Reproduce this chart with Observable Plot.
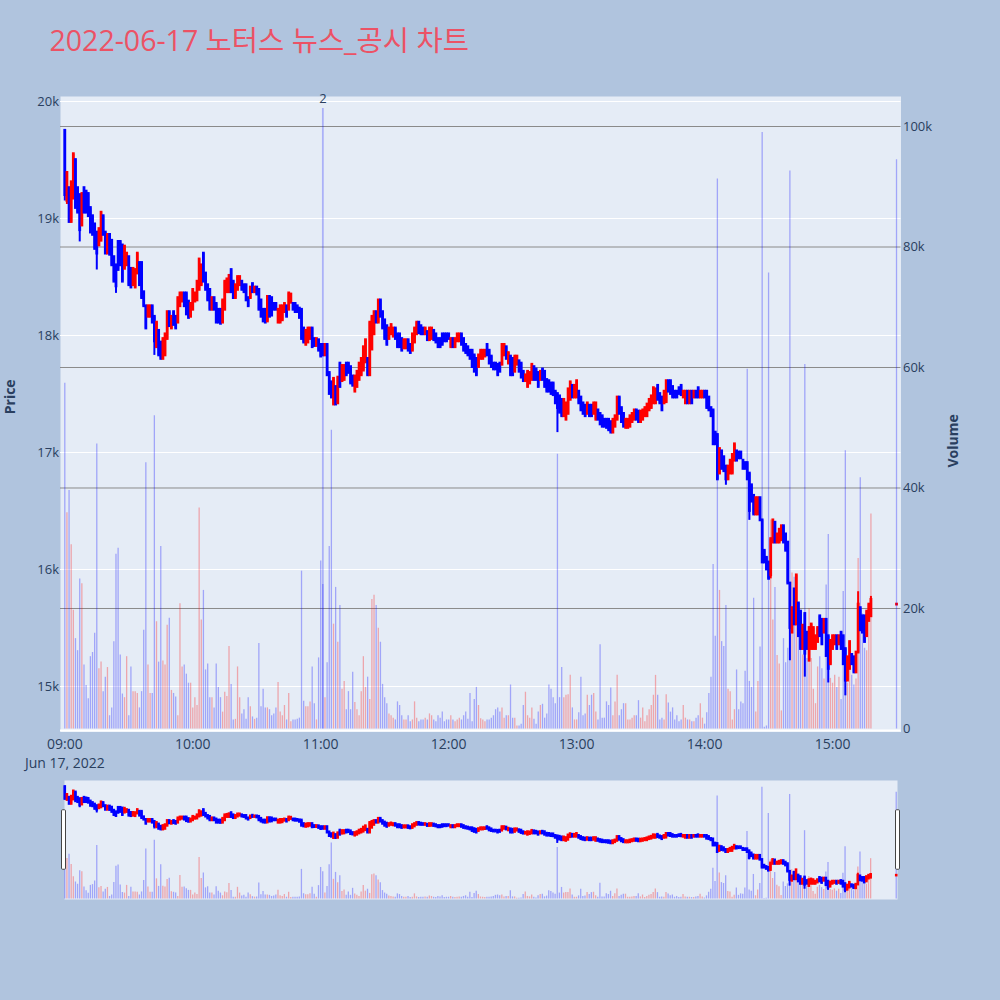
<!DOCTYPE html>
<html>
<head>
<meta charset="utf-8">
<script src="https://cdn.jsdelivr.net/npm/d3@7"></script>
<script src="https://cdn.jsdelivr.net/npm/@observablehq/plot@0.6"></script>
<style>
  html, body { margin: 0; padding: 0; background: #b0c4de; }
  #chart { position: relative; width: 1000px; height: 1000px; background: #b0c4de; overflow: hidden; font-family: "Open Sans", sans-serif; }
  #chart svg { position: absolute; left: 0; }
  #title { position: absolute; left: 49.5px; top: 25.5px; font-size: 28.5px; line-height: 28.5px; color: #ec5265; white-space: nowrap; font-family: "Open Sans", "Noto Sans CJK KR", sans-serif; }
</style>
</head>
<body>
<div id="chart"><div id="title">2022-06-17 노터스 뉴스_공시 차트</div></div>
<script>
// One-minute candles from the 09:00 open, one entry per minute.
const sessionStart = "2022-06-17T09:00:00Z";

const opens = [
  19750,19150,19260,18970,19170,19500,19260,19200,18940,19260,
  19230,19210,19090,19020,18950,18880,18770,18810,19020,18880,
  18700,18860,18810,18670,18600,18800,18800,18770,18570,18600,
  18670,18570,18430,18410,18530,18620,18620,18370,18250,18160,
  18160,18250,18160,17900,18040,17940,17800,17830,17970,18200,
  18060,18200,18160,18110,18250,18290,18360,18360,18290,18160,
  18220,18290,18300,18390,18430,18700,18530,18430,18390,18220,
  18320,18270,18220,18220,18110,18220,18370,18370,18560,18460,
  18320,18390,18430,18460,18430,18430,18320,18320,18440,18370,
  18410,18390,18300,18220,18220,18120,18330,18320,18270,18270,
  18110,18110,18130,18200,18250,18220,18280,18270,18270,18250,
  18230,18220,18060,17920,17940,17970,18060,17970,17910,17960,
  17920,17920,17830,17920,17680,17600,17410,17560,17420,17760,
  17610,17620,17760,17760,17730,17650,17520,17560,17620,17660,
  17700,17770,17800,17660,17880,18010,18200,18110,18300,18200,
  18130,18080,17970,18010,17990,18060,18010,18010,17970,17890,
  17890,17960,17920,17870,17940,18010,18110,18080,18060,18010,
  18030,17960,17970,18040,18010,17970,17970,18010,18010,18010,
  18010,17900,17970,17900,17950,17950,18010,17970,17920,17900,
  17870,17870,17830,17800,17730,17800,17800,17820,17920,17870,
  17820,17760,17760,17750,17760,17750,17830,17900,17760,17820,
  17800,17690,17750,17780,17760,17690,17610,17560,17590,17620,
  17730,17710,17680,17620,17710,17690,17620,17610,17590,17590,
  17520,17500,17480,17450,17310,17280,17330,17450,17570,17470,
  17470,17520,17470,17420,17400,17330,17400,17400,17330,17280,
  17360,17330,17310,17280,17280,17280,17260,17170,17220,17280,
  17470,17380,17330,17210,17210,17220,17260,17280,17360,17350,
  17260,17280,17310,17310,17360,17380,17420,17420,17570,17500,
  17470,17420,17430,17610,17610,17560,17520,17520,17550,17570,
  17470,17420,17520,17420,17520,17470,17520,17550,17470,17470,
  17520,17520,17470,17380,17360,17170,17150,16820,17010,16960,
  16880,16770,16820,16820,16930,17010,17000,17000,16930,16910,
  16910,16820,16720,16630,16470,16470,16610,16420,16160,16100,
  16060,15950,16230,16400,16230,16230,16250,16370,16300,16230,
  15880,15460,15830,15530,15710,15640,15320,15620,15460,15220,
  15320,15320,15320,15380,15600,15570,15460,15570,15430,15190,
  15320,15360,15430,15360,15460,15430,15320,15050,15150,15270,
  15250,15120,15290,15670,15600,15600,15430,15560,15600
];
const highs = [
  19760,19390,19260,19310,19550,19500,19260,19210,19210,19260,
  19230,19210,19090,19020,18950,18880,18910,19050,19020,18880,
  18860,18860,18810,18670,18600,18800,18800,18770,18760,18700,
  18670,18570,18570,18560,18700,18620,18620,18370,18250,18250,
  18250,18250,18160,18110,18040,17940,17970,18010,18200,18200,
  18160,18200,18160,18320,18360,18360,18360,18360,18290,18270,
  18390,18360,18460,18650,18600,18700,18530,18430,18390,18320,
  18320,18270,18220,18220,18300,18460,18480,18510,18560,18460,
  18430,18500,18500,18460,18430,18430,18320,18410,18440,18410,
  18410,18390,18300,18220,18220,18330,18330,18320,18270,18270,
  18220,18250,18250,18270,18250,18360,18360,18270,18270,18250,
  18230,18220,18060,18040,18060,18060,18060,17970,17970,17960,
  17920,17920,17920,17920,17680,17600,17630,17560,17640,17760,
  17740,17740,17760,17760,17730,17650,17650,17690,17760,17800,
  17900,17960,17800,18110,18160,18200,18200,18300,18300,18200,
  18130,18080,18060,18090,18060,18060,18010,18010,17970,17960,
  17960,17960,17920,18010,18060,18110,18110,18080,18060,18060,
  18030,18060,18060,18040,18010,17970,17970,18010,18010,18010,
  18010,17970,17970,17970,18010,18010,18010,17970,17920,17900,
  17870,17870,17830,17800,17830,17870,17870,17870,17920,17870,
  17820,17760,17760,17750,17760,17920,17920,17900,17850,17820,
  17800,17820,17820,17780,17760,17690,17660,17690,17680,17750,
  17730,17710,17680,17690,17710,17690,17620,17610,17590,17590,
  17520,17500,17480,17450,17450,17420,17540,17600,17570,17570,
  17610,17520,17470,17420,17400,17420,17400,17400,17420,17420,
  17360,17330,17310,17280,17280,17280,17260,17280,17310,17470,
  17470,17380,17330,17280,17280,17310,17330,17360,17360,17350,
  17350,17360,17380,17410,17450,17480,17550,17540,17570,17500,
  17470,17520,17610,17610,17610,17560,17520,17520,17550,17570,
  17520,17520,17520,17520,17520,17520,17520,17550,17520,17520,
  17520,17520,17470,17380,17360,17170,17150,17030,17010,16960,
  16880,16880,16930,16980,17070,17010,17000,17000,16930,16910,
  16910,16820,16720,16630,16610,16610,16610,16420,16160,16100,
  16060,16260,16420,16400,16300,16340,16370,16370,16300,16230,
  15880,15670,15830,15950,15710,15640,15520,15620,15460,15500,
  15530,15500,15430,15500,15600,15570,15570,15570,15430,15390,
  15430,15430,15430,15430,15460,15430,15320,15250,15380,15270,
  15250,15290,15810,15670,15600,15600,15640,15700,15770
];
const lows = [
  19150,19120,18970,18970,19170,19090,19050,18800,18940,19050,
  19050,19020,18880,18860,18740,18560,18770,18810,18860,18700,
  18700,18690,18600,18460,18360,18560,18600,18460,18570,18600,
  18430,18410,18430,18410,18530,18430,18320,18250,18060,18160,
  18160,18110,17830,17900,17830,17800,17800,17830,17970,18080,
  18060,18090,18060,18110,18250,18290,18250,18180,18150,18160,
  18220,18290,18300,18390,18430,18460,18390,18300,18220,18220,
  18220,18110,18110,18100,18110,18220,18370,18370,18370,18320,
  18320,18390,18430,18390,18370,18300,18250,18320,18370,18370,
  18350,18220,18160,18120,18110,18120,18160,18170,18220,18220,
  18110,18110,18130,18200,18160,18220,18280,18220,18200,18200,
  18150,17970,17940,17920,17940,17970,17900,17910,17910,17870,
  17820,17820,17830,17660,17500,17470,17410,17410,17420,17560,
  17610,17620,17660,17680,17590,17570,17520,17560,17620,17660,
  17700,17770,17660,17660,17880,18010,18110,18110,18160,18060,
  17970,17920,17970,18010,17990,17970,17900,17900,17870,17890,
  17890,17870,17850,17870,17940,18010,18020,18010,18010,18010,
  17960,17960,17970,17960,17940,17900,17900,17920,17950,17950,
  17970,17900,17900,17900,17950,17950,17920,17870,17850,17830,
  17800,17730,17690,17660,17730,17800,17800,17820,17830,17760,
  17730,17710,17710,17660,17690,17750,17830,17800,17760,17660,
  17660,17690,17750,17690,17640,17610,17610,17560,17590,17620,
  17620,17620,17560,17620,17620,17560,17520,17520,17500,17490,
  17420,17170,17340,17310,17310,17280,17330,17450,17470,17470,
  17470,17420,17360,17330,17310,17330,17310,17310,17330,17280,
  17280,17240,17220,17220,17210,17190,17170,17170,17220,17280,
  17330,17260,17220,17210,17210,17220,17260,17280,17280,17260,
  17260,17280,17310,17310,17360,17380,17420,17420,17450,17420,
  17360,17420,17430,17520,17500,17470,17470,17470,17500,17490,
  17470,17420,17420,17420,17420,17470,17470,17470,17470,17470,
  17470,17380,17360,17310,17070,17070,16770,16820,16860,16840,
  16720,16770,16820,16820,16930,16930,16950,16950,16860,16860,
  16770,16420,16580,16470,16470,16470,16420,16060,16060,16000,
  15920,15920,16230,16230,16230,16230,16250,16230,16160,15880,
  15220,15460,15530,15530,15430,15320,15320,15080,15320,15220,
  15320,15320,15320,15380,15430,15360,15460,15260,15030,15190,
  15320,15360,15320,15360,15320,15190,14920,15050,15150,15190,
  15120,15120,15290,15480,15460,15380,15430,15560,15600
];
const closes = [
  19200,19390,18970,19310,19550,19090,19050,18900,19210,19050,
  19050,19020,18880,18860,18740,18700,18910,19050,18860,18700,
  18860,18690,18600,18460,18420,18560,18600,18460,18760,18700,
  18430,18410,18570,18560,18700,18430,18320,18250,18060,18250,
  18250,18110,17950,18110,17830,17800,17970,18010,18200,18080,
  18160,18090,18060,18320,18360,18360,18250,18180,18150,18270,
  18390,18360,18460,18650,18600,18460,18390,18300,18220,18320,
  18220,18110,18110,18100,18300,18460,18480,18510,18370,18320,
  18430,18500,18500,18390,18370,18300,18250,18410,18370,18410,
  18350,18220,18160,18120,18110,18330,18160,18170,18220,18220,
  18220,18250,18250,18270,18160,18360,18350,18220,18200,18200,
  18150,17970,17940,18040,18060,18060,17900,17910,17970,17870,
  17820,17830,17920,17660,17500,17470,17630,17410,17640,17560,
  17740,17740,17660,17680,17590,17570,17650,17690,17760,17800,
  17900,17960,17660,18110,18160,18200,18110,18300,18160,18060,
  17970,17920,18060,18090,18060,17970,17900,17900,17870,17960,
  17960,17870,17850,18010,18060,18110,18020,18010,18010,18060,
  17960,18060,18060,17960,17940,17900,17900,17920,17950,17950,
  17970,17970,17900,17970,18010,18010,17920,17870,17850,17830,
  17800,17730,17690,17660,17830,17870,17870,17870,17830,17760,
  17730,17710,17710,17660,17690,17920,17920,17800,17850,17660,
  17660,17820,17820,17690,17640,17610,17660,17690,17680,17750,
  17620,17620,17560,17690,17620,17560,17520,17520,17500,17490,
  17420,17380,17340,17310,17450,17420,17540,17600,17470,17570,
  17610,17420,17360,17330,17310,17420,17310,17310,17420,17420,
  17280,17240,17220,17220,17210,17190,17170,17280,17310,17470,
  17330,17260,17220,17280,17280,17310,17330,17360,17280,17260,
  17350,17360,17380,17410,17450,17480,17550,17540,17450,17420,
  17360,17520,17610,17520,17500,17470,17470,17470,17500,17490,
  17520,17520,17420,17520,17420,17520,17470,17470,17520,17520,
  17470,17380,17360,17310,17070,17070,16770,17030,16860,16840,
  16770,16880,16930,16980,17070,16930,16950,16950,16860,16860,
  16770,16500,16580,16470,16610,16610,16420,16060,16060,16000,
  15920,16260,16420,16230,16300,16340,16370,16230,16160,15880,
  15500,15670,15530,15950,15430,15320,15520,15280,15320,15500,
  15530,15500,15430,15500,15430,15360,15570,15260,15150,15390,
  15430,15430,15320,15430,15320,15190,15050,15250,15380,15190,
  15120,15290,15700,15480,15460,15380,15640,15700,15740
];
const volumes = [
  57400,35900,39600,30600,19700,15000,13000,24900,24100,10600,
  7200,5000,12000,12700,15900,47300,10000,11100,6200,8600,
  10200,2200,3500,14500,29000,30000,12300,5800,5200,12000,
  2200,10300,6200,6200,5900,3500,6200,16400,44200,10600,
  5900,5900,52000,17800,11100,30300,11300,10600,17200,18400,
  6400,5900,5300,2200,20800,10300,10600,9100,7600,7600,
  3500,5200,3900,36700,18100,23000,9800,10800,5200,5200,
  3500,10800,6900,5200,2800,6100,5400,13700,7400,1500,
  1600,10300,5200,2500,3200,1600,5200,3700,2000,1600,
  1800,14200,3700,6600,3500,3500,3200,2200,2500,3500,
  7700,2800,2200,3900,1500,5900,1200,1500,1500,1600,
  1800,26200,4600,3700,3700,4500,10300,4200,1500,11800,
  27900,24000,5200,11000,30300,49600,17400,23500,14400,20500,
  6600,7900,3200,6200,3200,9400,4400,3200,2200,6200,
  12000,6900,8600,4900,21500,22200,20500,16700,14400,7400,
  5200,4200,2500,2200,1800,1500,4500,3900,2200,1500,
  1500,2200,1200,1500,4500,1800,1200,1500,1500,1800,
  1500,2500,2200,1500,1200,2200,1800,2800,1200,1500,
  1500,2200,1500,1200,1500,1800,1500,2200,2800,1600,
  5900,1200,4900,6900,3900,1700,1500,1200,1500,1500,
  1800,2200,3200,3500,2800,3500,1800,2200,2200,7300,
  1800,1800,500,500,800,3900,6100,2200,1800,3500,
  1600,800,2800,3900,4100,1800,2500,7300,6600,5200,
  4200,45600,5200,10200,5200,5600,5700,8900,3500,1500,
  1500,2700,8600,2200,2500,5600,3900,5600,5900,2800,
  1500,14000,1800,1800,4500,3900,6800,2200,4500,8900,
  2200,3200,4200,4200,1500,1500,1800,2200,2200,4700,
  1800,3500,1200,2200,3200,3900,5600,8900,5600,1500,
  1800,1500,5700,4300,2800,3500,1500,2200,1200,1500,
  3900,1800,1500,1500,1200,1200,1800,2200,4200,1800,
  800,2700,5900,8600,27300,15400,91300,23000,14500,13700,
  20500,6600,6200,1500,3200,9800,3200,4500,4200,9600,
  59700,7900,6900,21700,2800,7900,13600,99000,300,500,
  75700,34700,18100,23500,12200,10800,3000,15000,11000,13400,
  92600,25900,25200,23900,19500,15000,12300,60500,11700,19900,
  11700,6600,4200,10300,12000,10000,8300,23900,32300,8400,
  7600,8900,6900,8600,4900,22800,46200,7600,10300,8900,
  7300,8300,28300,41700,19100,13400,13000,18400,35700
];

// Closing single-price auction at 15:30.
const closingAuction = { time: "2022-06-17T15:30:00Z", open: 15700, high: 15700, low: 15700, close: 15700, volume: 94500 };

// News / disclosure markers: time, number of items, marker height on the volume axis.
const newsTimes = ["2022-06-17T11:01:00Z"];
const newsCounts = [2];
const newsMarkerHeights = [103000];

// Axis ticks
const hourTicks = ["09:00", "10:00", "11:00", "12:00", "13:00", "14:00", "15:00"];
const dateLabel = "Jun 17, 2022";
const priceTicks = [15000, 16000, 17000, 18000, 19000, 20000];
const volumeTicks = [0, 20000, 40000, 60000, 80000, 100000];

const UP = "#ff0000", DOWN = "#0000ff";
const INK = "#2a3f5f";
const PANEL = "#e5ecf6";

// ---- assemble rows ----
const t0 = new Date(sessionStart);
const rows = opens.map((o, i) => ({
  time: new Date(+t0 + i * 60000),
  open: o, high: highs[i], low: lows[i], close: closes[i], volume: volumes[i]
}));
rows.push({ ...closingAuction, time: new Date(closingAuction.time) });
rows.forEach((d, i) => {
  // candle colour: close against open; a flat bar counts as rising
  d.color = d.close >= d.open ? UP : DOWN;
  // volume colour follows the candle, a flat bar compares with the previous close
  const prev = i > 0 ? rows[i - 1].close : d.open;
  d.volumeColor = d.close > d.open ? UP : d.close < d.open ? DOWN : (d.close >= prev ? UP : DOWN);
});

const news = newsTimes.map((t, i) => ({ time: new Date(t), count: String(newsCounts[i]), height: newsMarkerHeights[i] }));

const hourDates = hourTicks.map(h => new Date(`2022-06-17T${h}:00Z`));
const fmtHour = d3.utcFormat("%H:%M");

// ---- layout ----
const mainX = [new Date("2022-06-17T08:57:59Z"), new Date("2022-06-17T15:32:06Z")];
const priceDomain = [14611, 20043];
const volumeDomain = [-500, 104980];
const frame = { width: 1000, height: 790, marginLeft: 60, marginRight: 99.5, marginTop: 96, marginBottom: 58.5 };
const svgStyle = "background: transparent; overflow: visible; font-family: 'Open Sans', sans-serif; color: " + INK + ";";

// Layer 1: panel, volume grid and right axis
const gridLayer = Plot.plot({
  ...frame, style: svgStyle,
  x: { type: "utc", domain: mainX, axis: null },
  y: { domain: volumeDomain },
  marks: [
    Plot.frame({ fill: PANEL, stroke: null }),
    Plot.ruleY(volumeTicks.filter(v => v > 0), { stroke: "#8a8a8a", strokeWidth: 1 }),
    Plot.ruleY([0], { stroke: "#ffffff", strokeWidth: 2, dy: 1.5 }),
    Plot.axisY(volumeTicks, {
      anchor: "right", tickSize: 0, tickPadding: 2, label: null, fontSize: 13, fill: INK,
      tickFormat: d => d === 0 ? "0" : `${d / 1000}k`
    }),
    Plot.text(["Volume"], { frameAnchor: "right", dx: 52.5, rotate: -90, fontSize: 14, fontWeight: "bold", fill: INK })
  ]
});

// Layer 2: price grid, candles, price and time axes
const priceLayer = Plot.plot({
  ...frame, style: svgStyle,
  x: { type: "utc", domain: mainX },
  y: { domain: priceDomain },
  color: { type: "identity" },
  marks: [
    Plot.ruleY(priceTicks, { stroke: "#ffffff", strokeWidth: 1 }),
    Plot.ruleX(rows, { x: "time", y1: "low", y2: "high", stroke: "color", strokeWidth: 2 }),
    Plot.ruleX(rows, { x: "time", y1: "open", y2: "close", stroke: "color", strokeWidth: 2.8, strokeLinecap: "square" }),
    Plot.axisY(priceTicks, {
      anchor: "left", tickSize: 0, tickPadding: 1.5, label: null, fontSize: 13, fill: INK,
      tickFormat: d => `${d / 1000}k`
    }),
    Plot.axisX(hourDates, {
      anchor: "bottom", tickSize: 0, tickPadding: 4, label: null, fontSize: 14, fill: INK, lineHeight: 1.35,
      tickFormat: d => fmtHour(d) === hourTicks[0] ? `${fmtHour(d)}\n${dateLabel}` : fmtHour(d)
    }),
    Plot.text(["Price"], { frameAnchor: "left", dx: -50, rotate: -90, fontSize: 14, fontWeight: "bold", fill: INK })
  ]
});

// Layer 3: translucent volume bars, news markers and counts
const volumeLayer = Plot.plot({
  ...frame, style: svgStyle,
  x: { type: "utc", domain: mainX, axis: null },
  y: { domain: volumeDomain, axis: null },
  color: { type: "identity" },
  marks: [
    Plot.ruleX(rows, { x: "time", y1: 0, y2: "volume", stroke: "volumeColor", strokeOpacity: 0.3, strokeWidth: 1.3 }),
    Plot.ruleX(news, { x: "time", y1: 0, y2: "height", stroke: DOWN, strokeOpacity: 0.25, strokeWidth: 1.8 }),
    Plot.text(news, { x: "time", y: "height", text: "count", dy: -10, fontSize: 13, fill: INK })
  ]
});

// Range slider overview (price and volume traces only)
const sliderX = [new Date("2022-06-17T08:59:52Z"), new Date("2022-06-17T15:30:36Z")];
const sliderFrame = { width: 1000, height: 119, marginLeft: 64, marginRight: 103, marginTop: 0, marginBottom: 0 };
const sliderBase = Plot.plot({
  ...sliderFrame, style: svgStyle,
  x: { type: "utc", domain: sliderX, axis: null },
  y: { domain: volumeDomain, axis: null },
  color: { type: "identity" },
  marks: [
    Plot.frame({ fill: PANEL, stroke: null }),
    Plot.ruleX(rows, { x: "time", y1: 0, y2: "volume", stroke: "volumeColor", strokeOpacity: 0.3, strokeWidth: 1.3 })
  ]
});
const sliderPrice = Plot.plot({
  ...sliderFrame, style: svgStyle,
  x: { type: "utc", domain: sliderX, axis: null },
  y: { domain: priceDomain, axis: null },
  color: { type: "identity" },
  marks: [
    Plot.ruleX(rows, { x: "time", y1: "low", y2: "high", stroke: "color", strokeWidth: 2 }),
    Plot.ruleX(rows, { x: "time", y1: "open", y2: "close", stroke: "color", strokeWidth: 2.6, strokeLinecap: "square" })
  ]
});
// grab handles at both ends of the slider
{
  const [x0, x1] = sliderPrice.scale("x").range;
  const h = sliderFrame.height;
  const g = d3.select(sliderPrice).append("g");
  [x0 - 2.5, x1 - 1.5].forEach(x => {
    g.append("rect").attr("x", x).attr("y", h / 4).attr("width", 4).attr("height", h / 2)
      .attr("rx", 1).attr("fill", "#ffffff").attr("stroke", "#444444").attr("stroke-width", 1);
  });
}

const chart = document.getElementById("chart");
[gridLayer, priceLayer, volumeLayer].forEach(svg => { svg.style.top = "0px"; chart.appendChild(svg); });
[sliderBase, sliderPrice].forEach(svg => { svg.style.top = "780px"; chart.appendChild(svg); });
</script>
</body>
</html>
